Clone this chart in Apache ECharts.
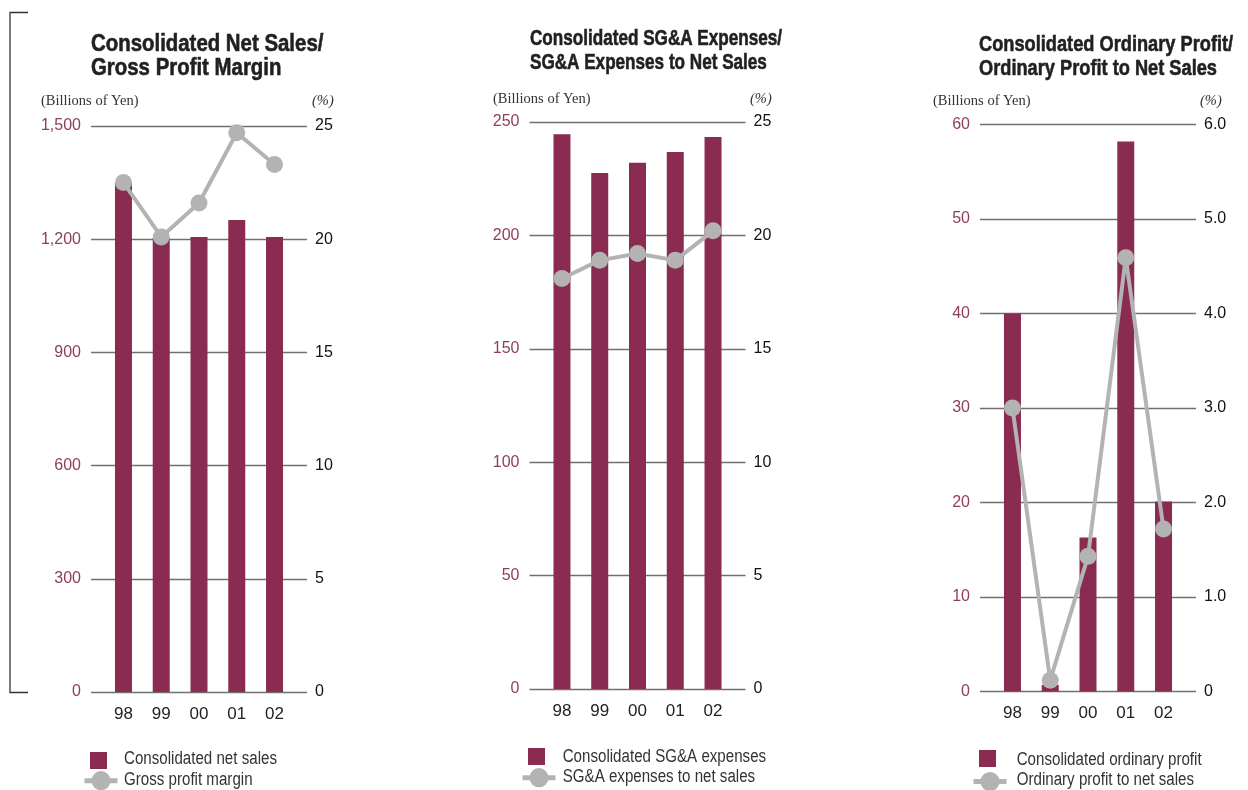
<!DOCTYPE html>
<html>
<head>
<meta charset="utf-8">
<script src="https://cdn.jsdelivr.net/npm/echarts@6/dist/echarts.min.js"></script>
<style>
  html, body { margin: 0; padding: 0; background: #fff; }
  #c { width: 1248px; height: 790px; }
</style>
</head>
<body>
<div id="c"></div>
<script>
// Fiscal years shown on every panel
const years = ['98', '99', '00', '01', '02'];

// Consolidated net sales (billions of yen) and gross profit margin (%)
const netSales = [1350, 1203, 1206, 1251, 1206];
const grossMargin = [22.5, 20.1, 21.6, 24.7, 23.3];

// Consolidated SG&A expenses (billions of yen) and SG&A to net sales (%)
const sgaExpenses = [244.6, 227.5, 232.0, 236.8, 243.4];
const sgaRatio = [18.1, 18.9, 19.2, 18.9, 20.2];

// Consolidated ordinary profit (billions of yen) and ordinary profit to net sales (%)
const ordinaryProfit = [40.0, 0.7, 16.3, 58.2, 20.1];
const ordinaryRatio = [3.0, 0.12, 1.43, 4.59, 1.72];

// Axis ranges: [max, step] for the yen axis and the percent axis
const salesAxis = [1500, 300];
const marginAxis = [25, 5];
const sgaAxis = [250, 50];
const sgaPctAxis = [25, 5];
const profitAxis = [60, 10];
const profitPctAxis = [6, 1];

const BAR = '#8a2c52';
const LINE = '#b3b3b3';
const GRID = '#707070';
const YEN_LABEL = '#8f3e62';
const INK = '#231f20';
const SANS = "'Liberation Sans', Arial, sans-serif";
const SERIF = "'Liberation Serif', 'Times New Roman', serif";

const thousands = v => v.toLocaleString('en-US');
const plain = v => String(v);
const oneDecimal = v => (v === 0 ? '0' : v.toFixed(1));

const panels = [
  {
    titleLines: ['Consolidated Net Sales/', 'Gross Profit Margin'],
    titleFont: 24, titleScale: 0.85, titleX: 91, titleY: [44.7, 68.6],
    left: 91, top: 126, height: 566,
    bars: netSales, line: grossMargin, yen: salesAxis, pct: marginAxis,
    yenFmt: thousands, pctFmt: plain,
    barName: 'Consolidated net sales', lineName: 'Gross profit margin',
    unitLeft: 41, unitTop: 93, pctLeft: 312,
    squareX: 90, squareTop: 752, lineX: 82, lineCenter: 780.7,
    textX: 124, textY: [759.5, 780.5]
  },
  {
    titleLines: ['Consolidated SG&A Expenses/', 'SG&A Expenses to Net Sales'],
    titleFont: 22, titleScale: 0.778, titleX: 530, titleY: [39, 63.2],
    left: 529.5, top: 122, height: 567,
    bars: sgaExpenses, line: sgaRatio, yen: sgaAxis, pct: sgaPctAxis,
    yenFmt: plain, pctFmt: plain,
    barName: 'Consolidated SG&A expenses', lineName: 'SG&A expenses to net sales',
    unitLeft: 493, unitTop: 91, pctLeft: 750,
    squareX: 528, squareTop: 748, lineX: 520, lineCenter: 777.7,
    textX: 562.7, textY: [756.7, 777.3]
  },
  {
    titleLines: ['Consolidated Ordinary Profit/', 'Ordinary Profit to Net Sales'],
    titleFont: 22.5, titleScale: 0.81, titleX: 979, titleY: [44.3, 68.5],
    left: 980, top: 124.5, height: 567,
    bars: ordinaryProfit, line: ordinaryRatio, yen: profitAxis, pct: profitPctAxis,
    yenFmt: plain, pctFmt: oneDecimal,
    barName: 'Consolidated ordinary profit', lineName: 'Ordinary profit to net sales',
    unitLeft: 933, unitTop: 93, pctLeft: 1200,
    squareX: 979, squareTop: 750, lineX: 971, lineCenter: 781.5,
    textX: 1016.7, textY: [760, 780.5]
  }
];

const PLOT_W = 216;
const grid = [], xAxis = [], yAxis = [], series = [], legend = [], title = [];
const graphic = [];

// Bracket along the left edge of the first panel
graphic.push({
  type: 'polyline',
  shape: { points: [[28, 12.5], [10, 12.5], [10, 692.5], [28, 692.5]] },
  style: { stroke: '#333', lineWidth: 1.3, fill: null }
});

// Condensed-looking text: regular face squeezed horizontally from its left edge
function squeezed(text, x, y, size, weight, scale, color, stroke) {
  const style = {
    text: text, x: 0, y: 0, fill: color,
    fontFamily: SANS, fontSize: size, fontWeight: weight,
    align: 'left', verticalAlign: 'middle'
  };
  if (stroke) {
    style.stroke = color;
    style.lineWidth = stroke;
  }
  return { type: 'text', x: x, y: y, scaleX: scale, silent: true, style: style };
}

panels.forEach((p, i) => {
  grid.push({ left: p.left, top: p.top, width: PLOT_W, height: p.height });

  xAxis.push({
    type: 'value', gridIndex: i, min: -0.86, max: 4.86,
    axisLine: { show: false }, axisTick: { show: false }, splitLine: { show: false },
    axisLabel: {
      customValues: years.map((_, k) => k),
      formatter: v => years[Math.round(v)],
      margin: 13.5, fontSize: 17, color: '#222', fontFamily: SANS
    }
  });

  yAxis.push({
    type: 'value', gridIndex: i, position: 'left', min: 0, max: p.yen[0], interval: p.yen[1],
    axisLine: { show: false }, axisTick: { show: false },
    axisLabel: { formatter: p.yenFmt, color: YEN_LABEL, fontSize: 16, margin: 10, fontFamily: SANS },
    splitLine: { show: true, lineStyle: { color: GRID, width: 1.3 } }
  });
  yAxis.push({
    type: 'value', gridIndex: i, position: 'right', min: 0, max: p.pct[0], interval: p.pct[1],
    axisLine: { show: false }, axisTick: { show: false },
    axisLabel: { formatter: p.pctFmt, color: '#111', fontSize: 16, margin: 8, fontFamily: SANS },
    splitLine: { show: false }
  });

  series.push({
    type: 'bar', name: p.barName, xAxisIndex: i, yAxisIndex: 2 * i,
    data: p.bars.map((v, k) => [k, v]), barWidth: 17,
    itemStyle: { color: BAR }, z: 2
  });
  series.push({
    type: 'line', name: p.lineName, xAxisIndex: i, yAxisIndex: 2 * i + 1,
    data: p.line.map((v, k) => [k, v]),
    symbol: 'circle', symbolSize: 17,
    itemStyle: { color: LINE }, lineStyle: { color: LINE, width: 4 }, z: 3
  });

  // Legend keys; their labels are drawn as squeezed text next to them
  legend.push({
    data: [{ name: p.barName, icon: 'rect' }], left: p.squareX, top: p.squareTop,
    itemWidth: 17, itemHeight: 17, padding: 0, selectedMode: false,
    formatter: () => ''
  });
  legend.push({
    data: [p.lineName], left: p.lineX, top: p.lineCenter - 12,
    itemWidth: 33, itemHeight: 24, padding: 0, selectedMode: false,
    lineStyle: { width: 5, color: LINE }, itemStyle: { color: LINE },
    formatter: () => ''
  });

  graphic.push(squeezed(p.barName, p.textX, p.textY[0], 18, 'normal', 0.84, '#333'));
  graphic.push(squeezed(p.lineName, p.textX, p.textY[1], 18, 'normal', 0.84, '#333'));

  p.titleLines.forEach((line, k) => {
    graphic.push(squeezed(line, p.titleX, p.titleY[k], p.titleFont, 'bold', p.titleScale, INK, 0.6));
  });

  title.push({
    text: '(Billions of Yen)', left: p.unitLeft, top: p.unitTop, padding: 0,
    textStyle: { fontFamily: SERIF, fontWeight: 'normal', fontSize: 14.5, lineHeight: 16, color: '#333' }
  });
  title.push({
    text: '(%)', left: p.pctLeft, top: p.unitTop, padding: 0,
    textStyle: { fontFamily: SERIF, fontWeight: 'normal', fontStyle: 'italic', fontSize: 14.5, lineHeight: 16, color: '#333' }
  });
});

const chart = echarts.init(document.getElementById('c'), null, { renderer: 'canvas' });
chart.setOption({
  animation: false,
  backgroundColor: '#fff',
  title, grid, xAxis, yAxis, series, legend, graphic
});
</script>
</body>
</html>
